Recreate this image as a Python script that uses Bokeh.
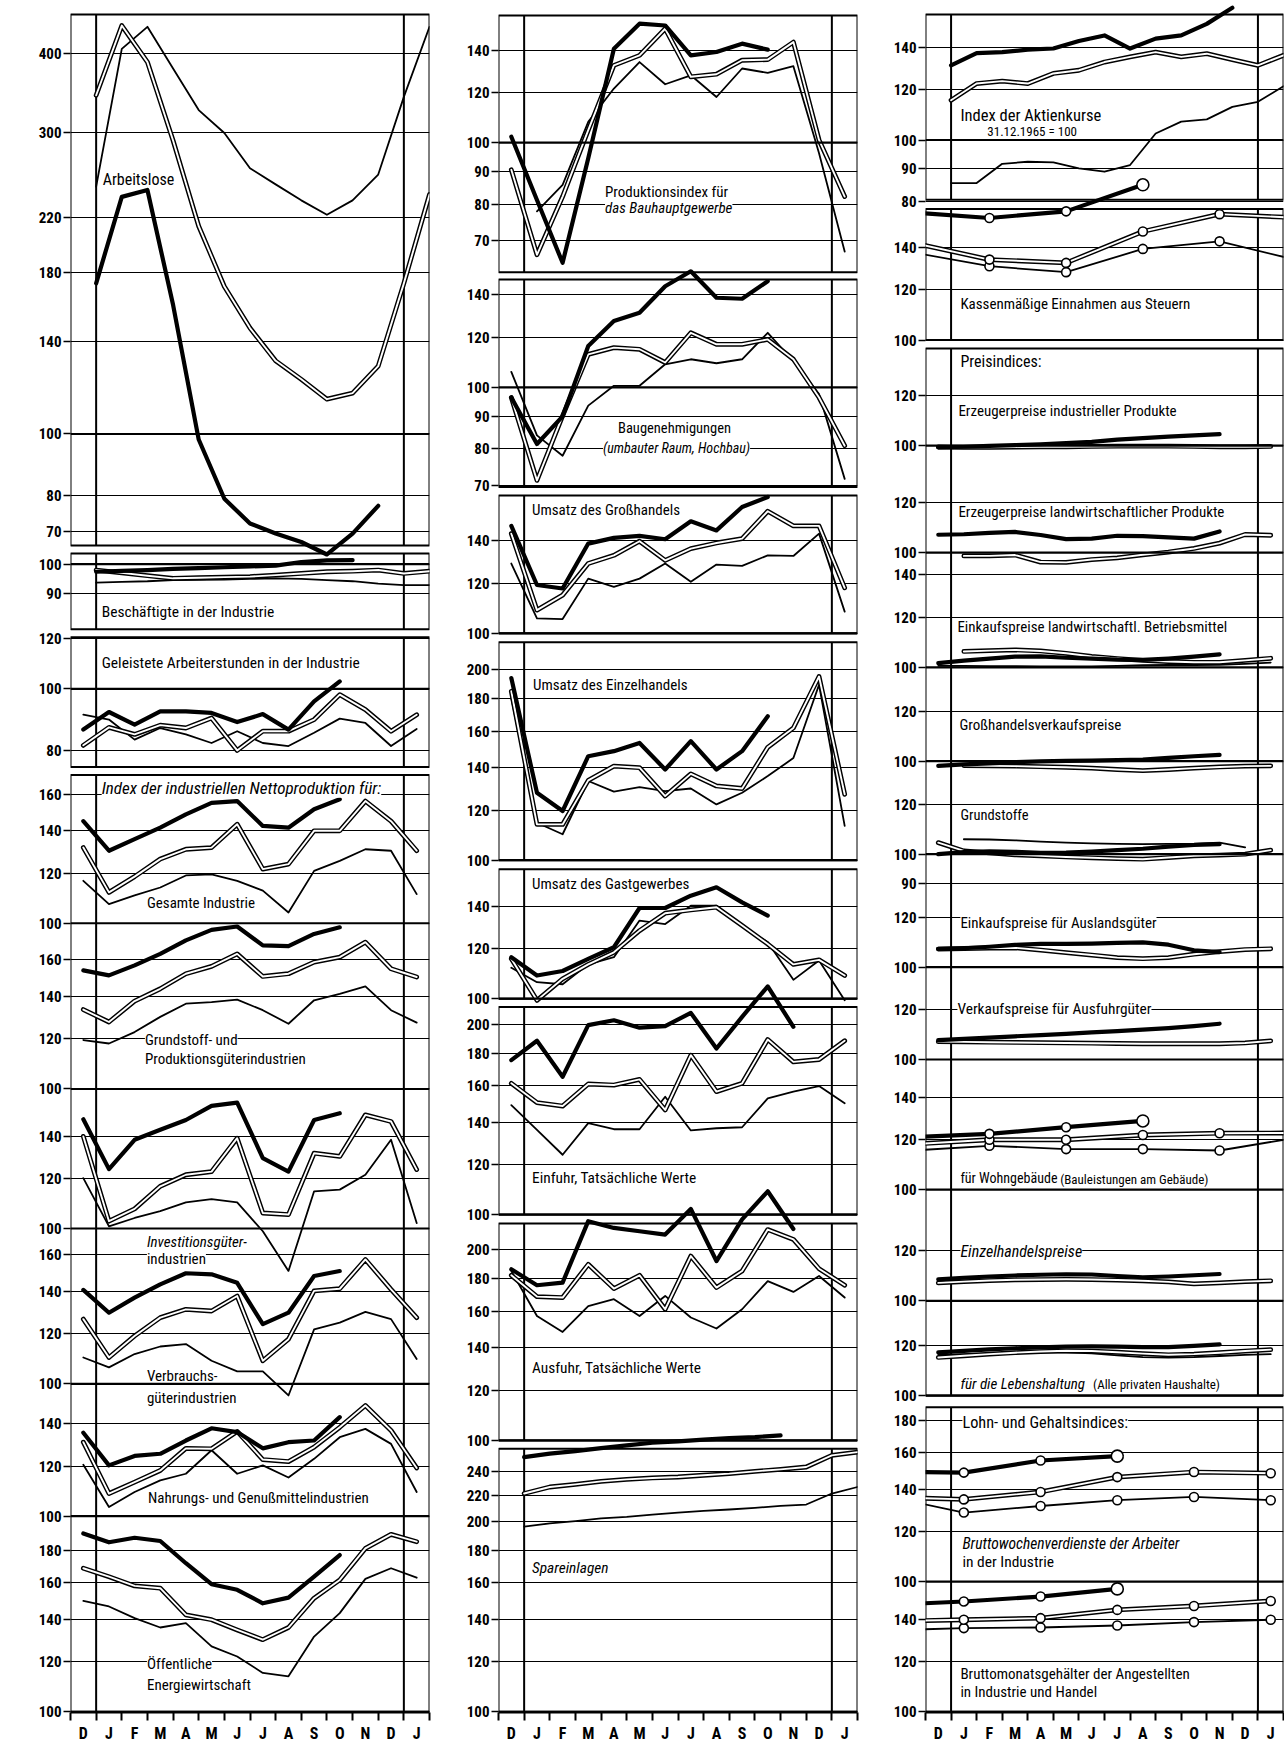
import math
from bokeh.plotting import figure
from bokeh.models import Range1d, LogScale, FixedTicker, Label, Span
from bokeh.layouts import row
from bokeh.embed import file_html
from bokeh.resources import INLINE

FONT = "Roboto Condensed, Liberation Sans Narrow, DejaVu Sans Condensed, Liberation Sans, sans-serif"

# ---------------- categories / x positions ----------------
months = ["D", "J", "F", "M", "A", "M", "J", "J", "A", "S", "O", "N", "D", "J"]
x_mid = [i + 0.5 for i in range(len(months))]          # monthly values (centre of month)
x_end = [i + 1.0 for i in range(len(months))]          # end-of-month values
x_q_feb = [-0.5, 2.5, 5.5, 8.5, 11.5, 14.5]            # quarterly: Feb, May, Aug, Nov
x_q_jan = [-1.5, 1.5, 4.5, 7.5, 10.5, 13.5]            # quarterly: Jan, Apr, Jul, Oct

# ---------------- column 1 ----------------
ticks_arbeitslose = [400, 300, 220, 180, 140, 100, 80, 70]
arbeitslose_thin = [246, 406, 440, 378, 325, 299, 263, 248, 234, 222, 234, 257, 341, 440]
arbeitslose_double = [343, 442, 387, 291, 213, 171, 147, 130.5, 122, 113.5, 116, 128, 173, 239]
arbeitslose_thick = [173, 237, 243, 160, 98, 79, 72.2, 69.6, 67.5, 64.5, 69.6, 77]

ticks_besch = [100, 90]
besch_thin = [93.5, 93.8, 94, 94.4, 94.5, 94.6, 94.8, 95, 94.8, 94.4, 94, 93.2, 92.7, 92.7]
besch_double = [97.9, 96.9, 95.9, 95.0, 95.2, 95.4, 95.6, 96.1, 96.7, 97.3, 97.5, 97.9, 96.7, 97.5]
besch_thick = [97.3, 97.6, 97.9, 98.3, 98.6, 98.9, 99.2, 99.5, 100.8, 101.4, 101.5]

ticks_stunden = [120, 100, 80]
stunden_thin = [91.0, 89.4, 83.1, 86.7, 84.7, 82.1, 85.7, 82.1, 81.2, 85.2, 89.7, 88.3, 81.2, 86.4]
stunden_double = [81.4, 86.9, 84.7, 87.6, 86.7, 89.9, 79.9, 85.7, 85.7, 89.4, 97.9, 92.7, 85.7, 91.0]
stunden_thick = [86.2, 91.9, 87.8, 92.1, 92.1, 91.6, 88.6, 91.2, 86.2, 95.5, 102.7]

ticks_gesamt = [160, 140, 120, 100]
gesamt_thin = [116.7, 107.2, 110.7, 113.9, 119, 119.5, 116.7, 112.6, 104, 121, 125.5, 130.9, 130.2, 111.2]
gesamt_double = [131.7, 111.9, 118.5, 126.3, 130.9, 131.7, 143.4, 121.8, 124, 140, 140, 156, 145, 130.2]
gesamt_thick = [145, 130.2, 135.8, 141.6, 148.6, 155, 156, 142.5, 141.6, 151.4, 157]

ticks_grund = [160, 140, 120, 100]
grund_thin = [119.5, 118, 123, 130, 136.4, 137.2, 138.4, 133.2, 126.8, 138.1, 141.4, 145.3, 133.2, 127.3]
grund_double = [133.5, 127.6, 137.7, 144, 152.1, 156.2, 163.5, 150.6, 152.1, 158.7, 161.6, 170.6, 154.9, 150.3]
grund_thick = [154, 151.2, 156.8, 163.5, 171.7, 178.4, 180.6, 168.6, 168.2, 175.8, 180.1]

ticks_invest = [140, 120, 100]
invest_thin = [120.1, 100.8, 103.9, 106.5, 110, 111.3, 110, 99, 85.7, 114.5, 115.2, 121.6, 138.1, 102]
invest_double = [139.8, 102.7, 107.4, 116.6, 121.6, 123, 138.9, 105.8, 105.2, 131.5, 130, 151.2, 147.6, 123.9]
invest_thick = [148.8, 124.1, 138.1, 143.2, 148.4, 156.2, 158.1, 129.2, 123, 148.4, 152.1]

ticks_verbr = [160, 140, 120, 100]
verbr_thin = [110.1, 106.2, 111.5, 114.6, 115.6, 108.8, 104.7, 104.7, 95.9, 122, 125, 130, 126.6, 109.5]
verbr_double = [126.6, 110.1, 119.1, 127.3, 131.2, 130.4, 137.7, 108.8, 117.7, 140.3, 141.4, 157.3, 141.1, 127.3]
verbr_thick = [140.8, 129.6, 136.9, 143.7, 149.6, 149, 144.5, 124.3, 129.6, 148.1, 150.8]

ticks_nahrung = [140, 120, 100]
nahrung_thin = [120.6, 103.4, 109.2, 113.9, 116.7, 127.1, 116.7, 120.3, 115.1, 123.2, 133.3, 137.4, 130.1, 109.2]
nahrung_double = [130.9, 108.6, 113.2, 118.1, 128, 127.8, 136.1, 122.9, 122, 128.6, 138.2, 149.6, 136.6, 119.2]
nahrung_thick = [135.5, 120.3, 124.5, 125.5, 131.7, 137.7, 135.8, 128, 130.9, 131.7, 143.4]

ticks_energie = [180, 160, 140, 120, 100]
energie_thin = [149.7, 146.7, 140.6, 135.9, 138.1, 126.9, 122.3, 115.2, 113.8, 131.5, 143.2, 162.2, 168.6, 162.9]
energie_double = [168.6, 163.5, 158.1, 156.8, 142.3, 139.8, 134.7, 130, 135.9, 151.2, 161.6, 181.2, 190.7, 185.7]
energie_thick = [191.4, 185.3, 188.4, 186.2, 171.7, 159.1, 155.9, 148.4, 151.5, 163.5, 176.9]

# ---------------- column 2 ----------------
ticks_bau = [140, 120, 100, 90, 80, 70]
bau_thin = [None, 77.9, 85.8, 107.9, 121.8, 134.1, 123.7, 127.8, 118.1, 131, 128.9, 132.1, 96.2, 67.3]
bau_double = [90.6, 66.5, 82.2, 104.7, 132.5, 137.4, 151.4, 127.1, 128.3, 135, 135.3, 144.2, 101, 82.2]
bau_thick = [102.2, 81.2, 64.6, 94.5, 140.8, 154.2, 153.2, 137.4, 139.1, 143.4, 140.3]

ticks_baugen = [140, 120, 100, 90, 80, 70]
baugen_thin = [105.8, 84, 78, 93.6, 100.6, 100.6, 108.8, 110.8, 109.2, 110.8, 122, 110.1, 97.6, 71.7]
baugen_double = [96.4, 71.3, 90.2, 112.8, 115.6, 114.9, 109.5, 122, 117, 117, 119.1, 110.8, 96.4, 80.9]
baugen_thick = [96.4, 81.4, 90, 116.3, 127.3, 131.2, 144.5, 152.6, 138.6, 138.1, 147.2]

ticks_gross = [140, 120, 100]
gross_thin = [128.9, 105.6, 105.3, 122, 118.4, 122, 128.9, 120.6, 128.4, 127.8, 132.8, 132.5, 143.7, 108.2]
gross_double = [143.7, 108.8, 114.9, 128.9, 132.8, 139.8, 130.4, 136.1, 138.9, 141.1, 155.9, 147.8, 147.8, 118]
gross_thick = [147.8, 119.2, 117.7, 138.6, 141.5, 142.5, 140.8, 150.3, 145.4, 158.3, 164.2]

ticks_einzel = [200, 180, 160, 140, 120, 100]
einzel_thin = [180.4, 114.6, 109.9, 133.4, 128.3, 130.5, 128.6, 129.8, 122.5, 127.8, 135.8, 145, 189.3, 113.3]
einzel_double = [184.9, 113.9, 113.9, 133.7, 140.8, 140, 126.3, 136.9, 131, 129.8, 150.8, 161.8, 195.1, 127.1]
einzel_thick = [194, 127.8, 119.6, 146, 148.7, 153.2, 139.1, 154.2, 139.1, 148.7, 168.8]

ticks_gast = [140, 120, 100]
gast_thin = [111.9, 106.2, 105.4, 113.3, 116.3, 132.9, 131.2, 140.3, 140.3, 130.5, 122.8, 107.1, 114.9, 99.4]
gast_double = [115.6, 99.4, 107.5, 113.3, 118.4, 128.1, 136.5, 138.1, 139.5, 130.5, 122, 113.3, 115.2, 108.8]
gast_thick = [116.3, 108.8, 110.6, 115.6, 120.6, 139.1, 139.1, 145.5, 150, 142, 135.3]

ticks_einfuhr = [200, 180, 160, 140, 120, 100]
einfuhr_thin = [148.9, 136.1, 124.3, 139.5, 136.4, 136.4, 153.5, 135.8, 136.9, 137.4, 152.6, 156.4, 159.6, 149.9]
einfuhr_double = [161.2, 150.3, 148.4, 160.8, 160.2, 163.5, 146.3, 178.6, 156.4, 161.2, 189.1, 174.3, 175.8, 188.2]
einfuhr_thick = [175.4, 188.2, 165.1, 199.2, 202.8, 197.4, 198.5, 208.3, 183, 205.3, 229.4, 198]

ticks_ausfuhr = [200, 180, 160, 140, 120, 100]
ausfuhr_thin = [185.3, 157.3, 148.4, 163.1, 167.2, 157.3, 169.2, 156.4, 150.3, 161.2, 178.6, 171.7, 181.9, 168.2]
ausfuhr_double = [182.4, 168.8, 168.2, 189.8, 173.8, 182.4, 161.2, 195.6, 174.4, 185.3, 215.4, 207.8, 186.8, 175.9]
ausfuhr_thick = [186.4, 175.9, 177.6, 222.1, 216.7, 214.1, 211.5, 232.2, 192.1, 223.5, 247.6, 215.9]

ticks_spar = [240, 220, 200, 180, 160, 140, 120, 100]
spar_thin = [196.1, 198.5, 200.1, 202.1, 203.3, 205, 206.5, 207.7, 208.8, 210, 211.5, 212.6, 221.3, 226.6]
spar_double = [221.3, 226.6, 228.8, 231.3, 233, 234.2, 235, 236.5, 237.9, 239.9, 241.6, 243.7, 254.2, 257.3]
spar_thick = [252.6, 255.8, 258.2, 261, 263.6, 266.2, 267.5, 269.2, 270.7, 271.7, 273.4]

# ---------------- column 3 ----------------
ticks_aktien = [140, 120, 100, 90, 80]
aktien_thin = [85.5, 85.5, 91.7, 92.4, 92.2, 90.2, 89.1, 91.3, 102.4, 106.9, 107.8, 112.8, 114.9, 121.6]
aktien_double = [115.6, 122.8, 123.9, 122.8, 127.4, 128.9, 132.8, 135.3, 137.7, 135.3, 136.9, 134, 131.2, 136.1]
aktien_thick = [131.2, 137.2, 137.7, 138.9, 139.5, 143.4, 146.3, 139.5, 144.6, 146.3, 152.6, 161.8]

ticks_steuern = [140, 120, 100]
steuern_thin = [137.5, 130.8, 128, 139.3, 143.2, 133.8]
steuern_double = [142.4, 134, 132.4, 148.4, 158.1, 156]
steuern_thick = [159, 155.9, 159.7, 175.9]

ticks_erz_ind = [120, 100]
erz_ind_double = [99.5, 99.4, 99.4, 99.5, 99.6, 99.6, 99.7, 99.8, 99.8, 99.8, 99.7, 99.6, 99.6, 99.7]
erz_ind_thick = [99.4, 99.6, 99.9, 100.2, 100.5, 100.9, 101.4, 102.2, 102.8, 103.3, 103.8, 104.3]

ticks_erz_lw = [120, 100]
erz_lw_double = [None, 98.8, 98.8, 99.1, 96.6, 96.5, 97.5, 98.1, 99.2, 100.2, 101.5, 103.5, 106.8, 106.5]
erz_lw_thick = [106.7, 106.9, 107.4, 107.8, 106.6, 105, 105.2, 106.3, 106.2, 105.7, 105.2, 108]

ticks_eink_lw = [140, 120, 100]
eink_lw_thin = [100.6, 100.6, 100.5, 100.5, 100.4, 100.4, 100.4, 100.6, 100.8, 100.9, 100.9, 101, 101.3, 101.8]
eink_lw_double = [None, 106, 106.3, 106.6, 106.2, 105.3, 104.1, 103.3, 102.6, 102.2, 101.9, 101.9, 102.6, 103.4]
eink_lw_thick = [101.6, 102.5, 103.3, 104, 104.1, 103.6, 103.3, 102.9, 102.8, 103.3, 104, 104.9]

ticks_grosshandel_p = [120, 100]
grosshandel_p_double = [None, 98.4, 98.3, 98.2, 98, 97.8, 97.5, 97, 96.6, 97, 97.5, 97.9, 98.2, 98.3]
grosshandel_p_thick = [98.3, 98.8, 99.2, 99.6, 99.9, 100.1, 100.2, 100.4, 100.6, 101.2, 101.8, 102.3]

ticks_grundstoffe = [120, 100, 90]
grundstoffe_thin = [None, 105.6, 105.5, 105.2, 104.7, 104.3, 104, 103.8, 103.7, 103.8, 103.9, 104.3, 102.5]
grundstoffe_double = [104.3, 101.2, 100.5, 99.8, 99.4, 99, 98.7, 98.4, 98.2, 98.8, 99.4, 99.7, 100, 101.5]
grundstoffe_thick = [100, 100.8, 101, 100.9, 100.5, 100.6, 101, 101.5, 102, 102.8, 103.4, 103.7]

ticks_ausland = [120, 100]
ausland_double = [106.8, 107, 107.2, 107.3, 106.4, 105.4, 104.5, 103.5, 103.1, 103.5, 104.8, 105.8, 106.6, 106.9]
ausland_thick = [106.9, 107.1, 107.7, 108.4, 108.8, 108.8, 108.9, 109.2, 109.4, 108.5, 106.3, 105.6]

ticks_ausfuhr_p = [120, 100]
ausfuhr_p_double = [106.7, 106.6, 106.5, 106.4, 106.3, 106.2, 106.1, 106, 105.9, 105.9, 105.9, 105.9, 106.2, 107]
ausfuhr_p_thick = [107.3, 107.8, 108.3, 108.8, 109.3, 109.8, 110.4, 110.9, 111.5, 112.1, 112.9, 113.9]

ticks_wohn = [140, 120, 100]
wohn_thin = [115.3, 117.3, 115.9, 115.9, 115.3, 120.8]
wohn_double = [118, 119.9, 119.9, 122, 122.8, 122.9]
wohn_thick = [121, 122.5, 125.5, 128.4]

ticks_einzel_p = [120, 100]
einzel_p_double = [106.8, 107.3, 107.7, 108, 108.1, 108.2, 108.1, 107.9, 107.6, 107.2, 106.4, 106.8, 107.3, 107.6]
einzel_p_thick = [108.2, 108.8, 109.3, 109.7, 110, 110.2, 110.1, 109.5, 109, 109.3, 109.8, 110.3]

ticks_leben = [120, 100]
leben_thin = [116, 116.3, 116.6, 116.9, 117, 117, 116.6, 115.8, 115, 114.8, 115, 115.5, 116, 116.3]
leben_double = [114.9, 115.6, 116.3, 116.9, 117.4, 117.7, 117.6, 117.1, 116.5, 116, 116.3, 116.9, 117.6, 118.2]
leben_thick = [117, 117.7, 118.3, 118.8, 119.2, 119.5, 119.6, 119.5, 119.3, 119.3, 119.8, 120.5]

ticks_wochen = [180, 160, 140, 120, 100]
wochen_thin = [136.3, 128.6, 131.7, 134.5, 136.1, 134.5]
wochen_double = [136, 134.9, 138.6, 146.3, 149, 148.4]
wochen_thick = [149.2, 148.7, 155.4, 157.9]

ticks_monat = [140, 120, 100]
monat_thin = [134.5, 135.6, 135.9, 136.9, 138.6, 139.8]
monat_double = [139, 139.8, 140.6, 144.9, 147, 149.7]
monat_thick = [147.5, 149.4, 152.1, 156.4]

# ---------------- layout (reference pixel geometry) ----------------
PX_DEC = 635.0          # pixels per decade of the ratio scale
Y_TOP, Y_BOT = 0.0, 1718.0


def panel(name, y100, ticks, *series):
    return dict(name=name, y100=y100, ticks=ticks, series=series)


col1_panels = [
    panel("arbeitslose", 435.0, ticks_arbeitslose,
          ("thin", x_end, arbeitslose_thin), ("double", x_end, arbeitslose_double), ("thick", x_end, arbeitslose_thick)),
    panel("besch", 565.7, ticks_besch,
          ("thin", x_end, besch_thin), ("double", x_end, besch_double), ("thick", x_end, besch_thick)),
    panel("stunden", 690.7, ticks_stunden,
          ("thin", x_mid, stunden_thin), ("double", x_mid, stunden_double), ("thick", x_mid, stunden_thick)),
    panel("gesamt", 926.0, ticks_gesamt,
          ("thin", x_mid, gesamt_thin), ("double", x_mid, gesamt_double), ("thick", x_mid, gesamt_thick)),
    panel("grund", 1092.3, ticks_grund,
          ("thin", x_mid, grund_thin), ("double", x_mid, grund_double), ("thick", x_mid, grund_thick)),
    panel("invest", 1232.3, ticks_invest,
          ("thin", x_mid, invest_thin), ("double", x_mid, invest_double), ("thick", x_mid, invest_thick)),
    panel("verbr", 1388.3, ticks_verbr,
          ("thin", x_mid, verbr_thin), ("double", x_mid, verbr_double), ("thick", x_mid, verbr_thick)),
    panel("nahrung", 1521.0, ticks_nahrung,
          ("thin", x_mid, nahrung_thin), ("double", x_mid, nahrung_double), ("thick", x_mid, nahrung_thick)),
    panel("energie", 1717.3, ticks_energie,
          ("thin", x_mid, energie_thin), ("double", x_mid, energie_double), ("thick", x_mid, energie_thick)),
]
col1_boxes = [(14, 547), (555, 631), (639, 769.3), (777.3, 1717.3)]
col1_labels = [
    ("Arbeitslose", 103, 180, 16, "normal", False),
    ("Beschäftigte in der Industrie", 102, 614, 15.5, "normal", False),
    ("Geleistete Arbeiterstunden in der Industrie", 102, 665, 15.5, "normal", False),
    ("Index der industriellen Nettoproduktion für:", 102, 790, 17, "italic", True),
    ("Gesamte Industrie", 147, 906, 15, "normal", False),
    ("Grundstoff- und", 145, 1043, 15, "normal", True),
    ("Produktionsgüterindustrien", 145, 1062, 15, "normal", False),
    ("Investitionsgüter-", 147, 1246, 15, "italic", False),
    ("industrien", 147, 1263, 15, "normal", True),
    ("Verbrauchs-", 147, 1380, 15, "normal", False),
    ("güterindustrien", 147, 1402, 15, "normal", False),
    ("Nahrungs- und Genußmittelindustrien", 148, 1503, 15, "normal", False),
    ("Öffentliche", 147, 1669, 15, "normal", True),
    ("Energiewirtschaft", 147, 1690, 15, "normal", False),
]

col2_panels = [
    panel("bau", 142.7, ticks_bau,
          ("thin", x_mid, bau_thin), ("double", x_mid, bau_double), ("thick", x_mid, bau_thick)),
    panel("baugen", 388.3, ticks_baugen,
          ("thin", x_mid, baugen_thin), ("double", x_mid, baugen_double), ("thick", x_mid, baugen_thick)),
    panel("gross", 635.0, ticks_gross,
          ("thin", x_mid, gross_thin), ("double", x_mid, gross_double), ("thick", x_mid, gross_thick)),
    panel("einzel", 862.7, ticks_einzel,
          ("thin", x_mid, einzel_thin), ("double", x_mid, einzel_double), ("thick", x_mid, einzel_thick)),
    panel("gast", 1001.7, ticks_gast,
          ("thin", x_mid, gast_thin), ("double", x_mid, gast_double), ("thick", x_mid, gast_thick)),
    panel("einfuhr", 1218.3, ticks_einfuhr,
          ("thin", x_mid, einfuhr_thin), ("double", x_mid, einfuhr_double), ("thick", x_mid, einfuhr_thick)),
    panel("ausfuhr", 1445.0, ticks_ausfuhr,
          ("thin", x_mid, ausfuhr_thin), ("double", x_mid, ausfuhr_double), ("thick", x_mid, ausfuhr_thick)),
    panel("spar", 1717.3, ticks_spar,
          ("thin", x_end, spar_thin), ("double", x_end, spar_double), ("thick", x_end, spar_thick)),
]
col2_boxes = [(15, 272.7), (280, 488.3), (496.7, 635), (644, 862.7), (871.7, 1001.7),
              (1010, 1218.3), (1227.3, 1445), (1453.3, 1717.3)]
col2_labels = [
    ("Produktionsindex für", 605, 192, 15, "normal", False),
    ("das Bauhauptgewerbe", 605, 208, 15, "italic", True),
    ("Baugenehmigungen", 618, 430, 14.5, "normal", False),
    ("(umbauter Raum, Hochbau)", 603, 449, 14, "italic", True),
    ("Umsatz des Großhandels", 532, 511, 15, "normal", False),
    ("Umsatz des Einzelhandels", 533, 687, 15, "normal", False),
    ("Umsatz des Gastgewerbes", 532, 887, 15, "normal", False),
    ("Einfuhr, Tatsächliche Werte", 532, 1182, 15.4, "normal", False),
    ("Ausfuhr, Tatsächliche Werte", 532, 1372, 15.4, "normal", False),
    ("Spareinlagen", 532, 1573, 15.4, "italic", False),
]

col3_panels = [
    panel("aktien", 140.0, ticks_aktien,
          ("thin", x_end, aktien_thin), ("double", x_end, aktien_double), ("thick", x_end, aktien_thick)),
    panel("steuern", 340.7, ticks_steuern,
          ("thin", x_q_feb, steuern_thin, True), ("double", x_q_feb, steuern_double, True),
          ("thick", x_q_feb, steuern_thick, True)),
    panel("erz_ind", 446.7, ticks_erz_ind,
          ("double", x_mid, erz_ind_double), ("thick", x_mid, erz_ind_thick)),
    panel("erz_lw", 554.0, ticks_erz_lw,
          ("double", x_mid, erz_lw_double), ("thick", x_mid, erz_lw_thick)),
    panel("eink_lw", 669.3, ticks_eink_lw,
          ("thin", x_mid, eink_lw_thin), ("double", x_mid, eink_lw_double), ("thick", x_mid, eink_lw_thick)),
    panel("grosshandel_p", 763.3, ticks_grosshandel_p,
          ("double", x_mid, grosshandel_p_double), ("thick", x_mid, grosshandel_p_thick)),
    panel("grundstoffe", 856.7, ticks_grundstoffe,
          ("thin", x_mid, grundstoffe_thin), ("double", x_mid, grundstoffe_double), ("thick", x_mid, grundstoffe_thick)),
    panel("ausland", 970.0, ticks_ausland,
          ("double", x_mid, ausland_double), ("thick", x_mid, ausland_thick)),
    panel("ausfuhr_p", 1062.7, ticks_ausfuhr_p,
          ("double", x_mid, ausfuhr_p_double), ("thick", x_mid, ausfuhr_p_thick)),
    panel("wohn", 1193.3, ticks_wohn,
          ("thin", x_q_feb, wohn_thin, True), ("double", x_q_feb, wohn_double, True),
          ("thick", x_q_feb, wohn_thick, True)),
    panel("einzel_p", 1305.0, ticks_einzel_p,
          ("double", x_mid, einzel_p_double), ("thick", x_mid, einzel_p_thick)),
    panel("leben", 1400.0, ticks_leben,
          ("thin", x_mid, leben_thin), ("double", x_mid, leben_double), ("thick", x_mid, leben_thick)),
    panel("wochen", 1586.7, ticks_wochen,
          ("thin", x_q_jan, wochen_thin, True), ("double", x_q_jan, wochen_double, True),
          ("thick", x_q_jan, wochen_thick, True)),
    panel("monat", 1717.3, ticks_monat,
          ("thin", x_q_jan, monat_thin, True), ("double", x_q_jan, monat_double, True),
          ("thick", x_q_jan, monat_thick, True)),
]
col3_boxes = [(14, 200), (209.3, 340.7), (349.3, 1400), (1411.7, 1717.3)]
col3_labels = [
    ("Index der Aktienkurse", 960, 115, 16.5, "normal", False),
    ("31.12.1965 = 100", 987, 131, 13, "normal", False),
    ("Kassenmäßige Einnahmen aus Steuern", 960, 305, 15, "normal", False),
    ("Preisindices:", 960, 362, 16, "normal", False),
    ("Erzeugerpreise industrieller Produkte", 958, 412, 15, "normal", False),
    ("Erzeugerpreise landwirtschaftlicher Produkte", 958, 513, 15, "normal", False),
    ("Einkaufspreise landwirtschaftl. Betriebsmittel", 957, 629, 15, "normal", False),
    ("Großhandelsverkaufspreise", 959, 727, 15, "normal", False),
    ("Grundstoffe", 960, 818, 14.5, "normal", False),
    ("Einkaufspreise für Auslandsgüter", 960, 926, 15, "normal", True),
    ("Verkaufspreise für Ausfuhrgüter", 957, 1012, 15.4, "normal", True),
    ("für Wohngebäude", 960, 1182, 14, "normal", False),
    ("(Bauleistungen am Gebäude)", 1060, 1183, 13, "normal", False),
    ("Einzelhandelspreise", 960, 1255, 16, "italic", True),
    ("für die Lebenshaltung", 960, 1388, 15, "italic", False),
    ("(Alle privaten Haushalte)", 1093, 1389, 13, "normal", False),
    ("Lohn- und Gehaltsindices:", 962, 1427, 16.3, "normal", True),
    ("Bruttowochenverdienste der Arbeiter", 962, 1549, 15.5, "italic", False),
    ("in der Industrie", 962, 1567, 15.5, "normal", False),
    ("Bruttomonatsgehälter der Angestellten", 960, 1679, 15, "normal", False),
    ("in Industrie und Handel", 960, 1697, 15, "normal", False),
]


def ypos(y100, v):
    return y100 - PX_DEC * math.log10(v / 100.0)


def draw_series(p, name, style, xs, vals, marks=False):
    ys = [float("nan") if v is None else float(v) for v in vals]
    xs = list(xs[:len(ys)])
    kw = dict(y_range_name=name, line_join="round", line_cap="round")
    if style == "thick":
        p.line(xs, ys, line_color="black", line_width=4.2, **kw)
    elif style == "double":
        p.line(xs, ys, line_color="black", line_width=4.8, **kw)
        p.line(xs, ys, line_color="white", line_width=1.9, **kw)
    else:
        p.line(xs, ys, line_color="black", line_width=1.8, **kw)
    if marks:
        pts = [(x, y) for x, y in zip(xs, ys) if 0 < x < 14]
        sizes = [9] * len(pts)
        if style == "thick" and sizes:
            sizes[-1] = 12
        p.scatter([a for a, _ in pts], [b for _, b in pts], size=sizes, marker="circle",
                  fill_color="white", line_color="black", line_width=1.6, y_range_name=name)


def build(panels, boxes, labels, ref_left, ref_step, width, bl, br):
    p = figure(width=width, height=1745, x_range=Range1d(0, 14), y_range=Range1d(Y_BOT, Y_TOP),
               output_backend="svg", toolbar_location=None,
               min_border_left=bl, min_border_right=br, min_border_top=0, min_border_bottom=27)
    p.outline_line_color = None
    p.background_fill_color = "white"
    p.xgrid.visible = False

    ranges, scales, ticks, overrides = {}, {}, [], {}
    for pn in panels:
        y100 = pn["y100"]
        ranges[pn["name"]] = Range1d(100 * 10 ** ((y100 - Y_BOT) / PX_DEC), 100 * 10 ** ((y100 - Y_TOP) / PX_DEC))
        scales[pn["name"]] = LogScale()
        for v in pn["ticks"]:
            t = round(ypos(y100, v), 2)
            if t not in overrides:
                ticks.append(t)
                overrides[t] = str(v)
    p.extra_y_ranges = ranges
    p.extra_y_scales = scales

    yt = FixedTicker(ticks=ticks)
    yax = p.yaxis[0]
    yax.ticker = yt
    yax.major_label_overrides = overrides
    yax.axis_line_color = None
    yax.major_tick_out = 7
    yax.major_tick_in = 0
    yax.major_tick_line_width = 1.5
    yax.minor_tick_line_color = None
    yax.major_label_standoff = 2
    yax.major_label_text_font = FONT
    yax.major_label_text_font_size = "15px"
    yax.major_label_text_font_style = "bold"
    yax.major_label_text_color = "black"
    p.ygrid[0].ticker = yt
    p.ygrid.grid_line_color = "black"
    p.ygrid.grid_line_width = 1.2

    xax = p.xaxis[0]
    xax.ticker = FixedTicker(ticks=x_mid, minor_ticks=list(range(15)))
    xax.major_label_overrides = {x: m for x, m in zip(x_mid, months)}
    xax.major_tick_line_color = None
    xax.minor_tick_out = 8
    xax.minor_tick_in = 0
    xax.minor_tick_line_width = 2
    xax.axis_line_width = 2
    xax.major_label_standoff = 3
    xax.major_label_text_font = FONT
    xax.major_label_text_font_size = "16px"
    xax.major_label_text_font_style = "bold"
    xax.major_label_text_color = "black"

    # panel frames and the two December/January separators
    p.quad(left=[0] * len(boxes), right=[14] * len(boxes), top=[b[0] for b in boxes],
           bottom=[b[1] for b in boxes], fill_color=None, line_color="black", line_width=2)
    p.segment(x0=[1] * len(boxes) + [13] * len(boxes), x1=[1] * len(boxes) + [13] * len(boxes),
              y0=[b[0] for b in boxes] * 2, y1=[b[1] for b in boxes] * 2,
              line_color="black", line_width=2)
    for pn in panels:
        p.add_layout(Span(location=pn["y100"], dimension="width", line_color="black", line_width=2.2))

    for pn in panels:
        for s in pn["series"]:
            draw_series(p, pn["name"], s[0], s[1], s[2], s[3] if len(s) > 3 else False)

    for text, X, Y, size, style, bg in labels:
        p.add_layout(Label(x=(X - ref_left) / ref_step, y=Y, text=text, text_font=FONT,
                           text_font_size=f"{size}px", text_font_style=style,
                           text_baseline="middle", text_align="left", text_color="black",
                           background_fill_color="white" if bg else None))
    return p


f1 = build(col1_panels, col1_boxes, col1_labels, 71.0, 25.5, 438, 70, 9)
f2 = build(col2_panels, col2_boxes, col2_labels, 498.5, 25.64, 427, 60, 8)
f3 = build(col3_panels, col3_boxes, col3_labels, 925.0, 25.64, 419, 60, 1)

layout = row(f1, f2, f3)
open("out.html", "w").write(file_html(layout, INLINE))
